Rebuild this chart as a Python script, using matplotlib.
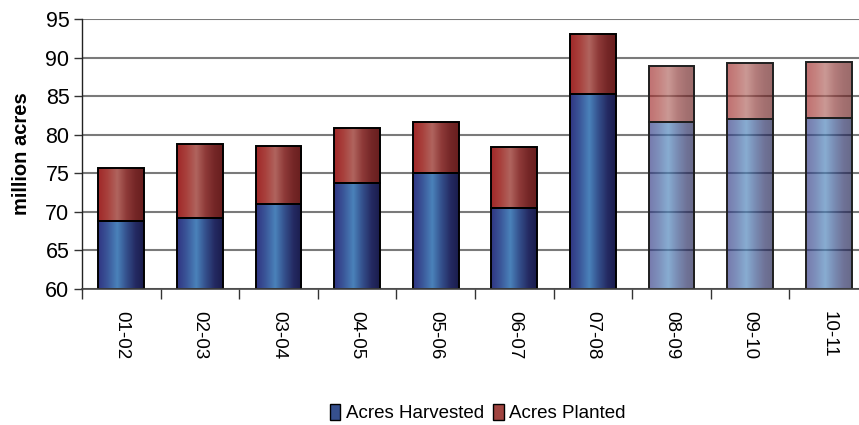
import numpy as np
import matplotlib
matplotlib.use("Agg")
import matplotlib.pyplot as plt
from matplotlib.colors import LinearSegmentedColormap
from matplotlib.patches import Rectangle

# ---- data ----
seasons = ["01-02", "02-03", "03-04", "04-05", "05-06", "06-07", "07-08", "08-09", "09-10", "10-11"]
acres_harvested = [68.8, 69.2, 71.0, 73.7, 75.0, 70.5, 85.3, 81.7, 82.0, 82.2]
acres_planted = [75.7, 78.8, 78.6, 80.9, 81.7, 78.4, 93.0, 88.9, 89.3, 89.4]
projected = [False, False, False, False, False, False, False, True, True, True]
y_ticks = [60, 65, 70, 75, 80, 85, 90, 95]

plt.rcParams['font.family'] = ['Liberation Sans', 'DejaVu Sans']

blue_stops = ["#303582", "#3A5598", "#4A82BA", "#34508C", "#242A62", "#1A1C4C"]
red_stops = ["#A02828", "#A8403C", "#B0645E", "#8E3A38", "#742626", "#681E1E"]
stops = [0, 0.2, 0.42, 0.62, 0.82, 1.0]
blue_cmap = LinearSegmentedColormap.from_list("b", list(zip(stops, blue_stops)))
red_cmap = LinearSegmentedColormap.from_list("r", list(zip(stops, red_stops)))

fig = plt.figure(figsize=(8.59, 4.25), dpi=100)
ax = fig.add_axes([82 / 859, 1 - 289 / 425, 786 / 859, 270 / 425])

x = np.arange(len(seasons))
width = 0.585
harv = np.array(acres_harvested)
plant = np.array(acres_planted)

bars_h = ax.bar(x, harv - 60, bottom=60, width=width, facecolor="none",
                edgecolor="black", linewidth=1.4, zorder=3)
bars_p = ax.bar(x, plant - harv, bottom=harv, width=width, facecolor="none",
                edgecolor="black", linewidth=1.4, zorder=3)

grad = np.linspace(0, 1, 256).reshape(1, -1)
for bars, cmap in ((bars_h, blue_cmap), (bars_p, red_cmap)):
    for patch, proj in zip(bars, projected):
        bx, by = patch.get_x(), patch.get_y()
        bw, bh = patch.get_width(), patch.get_height()
        im = ax.imshow(grad, cmap=cmap, extent=[bx, bx + bw, by, by + bh],
                       aspect="auto", zorder=2, interpolation="bilinear",
                       alpha=0.66 if proj else 1.0)
        im.set_clip_path(patch)
        if proj:
            patch.set_edgecolor((0.12, 0.12, 0.12))

ax.set_xlim(-0.5, len(seasons) - 0.5)
ax.set_ylim(60, 95)
ax.set_yticks(y_ticks)
ax.set_yticklabels([str(v) for v in y_ticks], fontsize=15.5)
ax.set_axisbelow(True)
ax.yaxis.grid(True, color="#7a7a7a", linewidth=1.5)
for gl in ax.get_ygridlines():
    gl.set_zorder(1)
ax.set_xticks(x)
ax.set_xticklabels(seasons, rotation=-90, fontsize=13.5)
ax.set_xticks(np.arange(-0.5, len(seasons), 1.0), minor=True)
ax.tick_params(axis="x", which="major", length=0, pad=16)
ax.tick_params(axis="x", which="minor", length=7, width=1, color="#333333", direction="out")
ax.tick_params(axis="y", length=6, width=1, color="#333333", pad=3)
for s in ("top", "right"):
    ax.spines[s].set_visible(False)
ax.spines["left"].set_color("#222222")
ax.spines["bottom"].set_color("#444444")
ax.spines["left"].set_linewidth(1.0)
ax.spines["bottom"].set_linewidth(1.2)
for sp in ax.spines.values():
    sp.set_zorder(4)

ax.set_ylabel("million acres", fontsize=14.5, fontweight="bold", labelpad=10)

handles = [Rectangle((0, 0), 1, 1, facecolor="#36508E", edgecolor="black", linewidth=1),
           Rectangle((0, 0), 1, 1, facecolor="#A04440", edgecolor="black", linewidth=1)]
fig.legend(handles, ["Acres Harvested", "Acres Planted"], loc="center",
           bbox_to_anchor=(478 / 859, 1 - 413 / 425), ncol=2, frameon=False,
           fontsize=13.5, handlelength=0.55, handleheight=1.0, handletextpad=0.3,
           columnspacing=0.5)

fig.savefig("out.png", dpi=100)
